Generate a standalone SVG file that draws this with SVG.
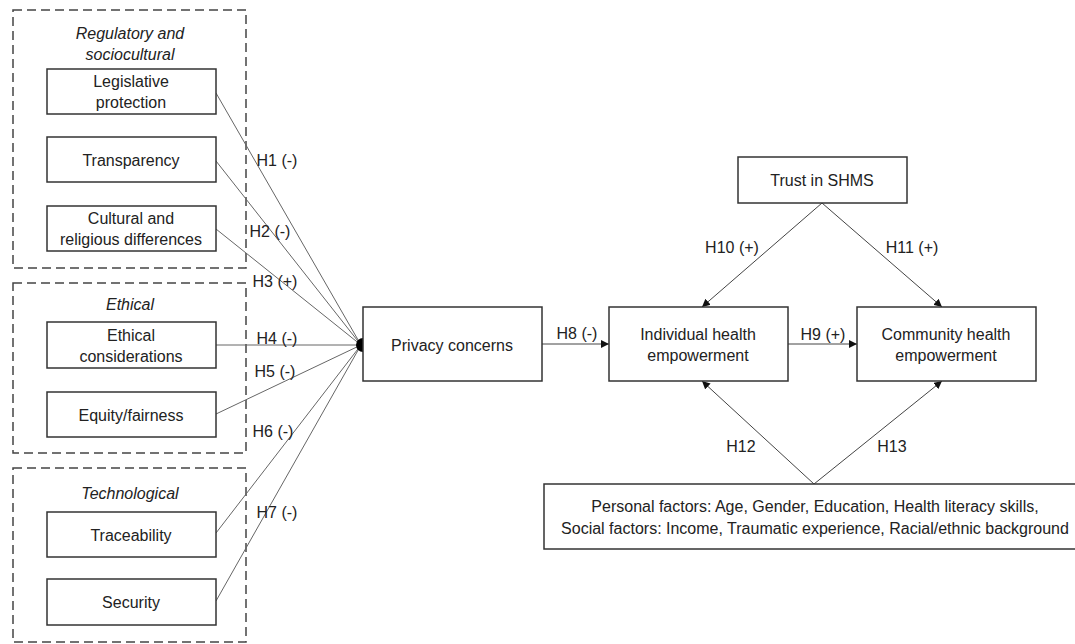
<svg xmlns="http://www.w3.org/2000/svg" width="1075" height="644" viewBox="0 0 1075 644">
<style>
text{font-family:"Liberation Sans",Arial,sans-serif;font-size:16px;fill:#222;text-anchor:middle;dominant-baseline:central}
.it{font-style:italic}
.box{fill:#fff;stroke:#333;stroke-width:1.5}
.grp{fill:none;stroke:#444;stroke-width:1.5;stroke-dasharray:9 5}
.ln{stroke:#666;stroke-width:1;fill:none}
.ar{stroke:#444;stroke-width:1;fill:none;marker-end:url(#ah)}
</style>
<defs>
<marker id="ah" viewBox="0 0 10 10" refX="10" refY="5" markerWidth="8" markerHeight="8" markerUnits="userSpaceOnUse" orient="auto">
<path d="M0,0 L10,5 L0,10 Z" fill="#111"/>
</marker>
</defs>
<rect width="1075" height="644" fill="#fff"/>
<g id="groups">
<rect class="grp" x="13" y="10" width="233" height="258"/>
<text class="it" x="130" y="33">Regulatory and</text>
<text class="it" x="130" y="54">sociocultural</text>
<rect class="grp" x="13" y="283" width="233" height="170"/>
<text class="it" x="130" y="304">Ethical</text>
<rect class="grp" x="13" y="468" width="233" height="174"/>
<text class="it" x="130" y="493">Technological</text>
</g>
<g id="connectors">
<line class="ln" x1="216" y1="93" x2="361" y2="345"/>
<line class="ln" x1="216" y1="161" x2="361" y2="345"/>
<line class="ln" x1="216" y1="229" x2="361" y2="345"/>
<line class="ln" x1="216" y1="345" x2="361" y2="345"/>
<line class="ln" x1="216" y1="414" x2="361" y2="345"/>
<line class="ln" x1="216" y1="533" x2="361" y2="345"/>
<line class="ln" x1="216" y1="601" x2="361" y2="345"/>
<path d="M363,338 A7,7 0 0 0 363,352 Z" fill="#000"/>
<line class="ar" x1="542" y1="344" x2="609" y2="344"/>
<line class="ar" x1="788" y1="344" x2="857" y2="344"/>
<line class="ar" x1="822" y1="203" x2="702" y2="307"/>
<line class="ar" x1="822" y1="203" x2="942" y2="307"/>
<line class="ar" x1="814" y1="484" x2="702" y2="381"/>
<line class="ar" x1="814" y1="484" x2="942" y2="381"/>
<text x="277" y="160">H1 (-)</text>
<text x="270" y="231">H2 (-)</text>
<text x="275" y="281">H3 (+)</text>
<text x="277" y="338">H4 (-)</text>
<text x="275" y="371">H5 (-)</text>
<text x="273" y="431">H6 (-)</text>
<text x="277" y="512">H7 (-)</text>
<text x="577" y="333">H8 (-)</text>
<text x="823" y="334">H9 (+)</text>
<text x="732" y="247">H10 (+)</text>
<text x="912" y="247">H11 (+)</text>
<text x="741" y="446">H12</text>
<text x="892" y="446">H13</text>
</g>
<g id="legislative">
<rect class="box" x="47" y="69" width="169" height="45"/>
<text x="131" y="81">Legislative</text>
<text x="131" y="102">protection</text>
</g>
<g id="transparency">
<rect class="box" x="47" y="137" width="169" height="45"/>
<text x="131" y="160">Transparency</text>
</g>
<g id="cultural">
<rect class="box" x="47" y="206" width="169" height="45"/>
<text x="131" y="218">Cultural and</text>
<text x="131" y="239">religious differences</text>
</g>
<g id="ethical">
<rect class="box" x="47" y="322" width="169" height="46"/>
<text x="131" y="335">Ethical</text>
<text x="131" y="356">considerations</text>
</g>
<g id="equity">
<rect class="box" x="47" y="392" width="169" height="45"/>
<text x="131" y="415">Equity/fairness</text>
</g>
<g id="traceability">
<rect class="box" x="47" y="512" width="169" height="45"/>
<text x="131" y="535">Traceability</text>
</g>
<g id="security">
<rect class="box" x="47" y="579" width="169" height="46"/>
<text x="131" y="602">Security</text>
</g>
<g id="privacy">
<rect class="box" x="363" y="307" width="179" height="74"/>
<text x="452" y="345">Privacy concerns</text>
</g>
<g id="trust">
<rect class="box" x="738" y="157" width="169" height="46"/>
<text x="822" y="180">Trust in SHMS</text>
</g>
<g id="individual">
<rect class="box" x="609" y="307" width="179" height="74"/>
<text x="698" y="334">Individual health</text>
<text x="698" y="355">empowerment</text>
</g>
<g id="community">
<rect class="box" x="857" y="307" width="179" height="74"/>
<text x="946" y="334">Community health</text>
<text x="946" y="355">empowerment</text>
</g>
<g id="personal">
<rect class="box" x="544" y="484" width="533" height="65"/>
<text x="815" y="506">Personal factors: Age, Gender, Education, Health literacy skills,</text>
<text x="815" y="528">Social factors: Income, Traumatic experience, Racial/ethnic background</text>
</g>
</svg>
